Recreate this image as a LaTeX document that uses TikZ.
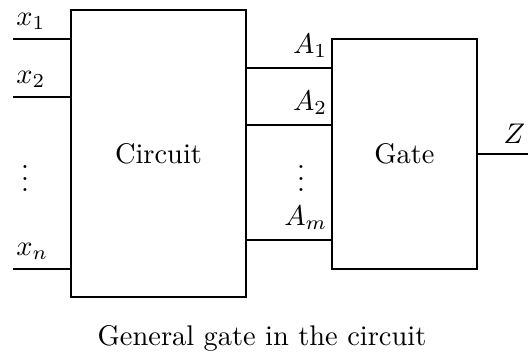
\documentclass[tikz,border=0pt]{standalone}
\begin{document}
\begin{tikzpicture}[x=0.352pt, y=-0.352pt,
    block/.style={draw, line width=0.7pt, rectangle, align=center},
    wire/.style={line width=0.7pt},
    lab/.style={inner xsep=1pt, inner ysep=3.2pt}
  ]
  \useasboundingbox (0,0) rectangle (528,356);

  \node[block, minimum width=61.6pt, minimum height=101pt] (circ) at (158.5,153.5) {Circuit};
  \node[block, minimum width=51pt, minimum height=81pt] (gate) at (404.5,154) {Gate};

  % inputs
  \foreach \n/\y/\t in {1/39/x_1, 2/97/x_2, 3/269/x_n} {
    \coordinate (in\n) at (13,\y);
    \draw[wire] (in\n) -- (in\n -| circ.west);
    \node[lab, above right] (xl\n) at (in\n) {$\t$};
  }
  \node (vl) at (25,170) {$\vdots$};

  % circuit outputs into the gate
  \foreach \n/\y/\t in {1/68/A_1, 2/125/A_2, 3/240/A_m} {
    \path (circ.east |- 0,\y) coordinate (out\n);
    \draw[wire] (out\n) -- (out\n -| gate.west) node[lab, above left] (al\n) {$\t$};
  }
  \node (vr) at (301,170) {$\vdots$};

  \path (gate.east) ++(51,0) coordinate (zend);
  \draw[wire] (gate) -- (zend) node[lab, above left] (zl) {$Z$};

  \node (cap) at (262,338) {General gate in the circuit};
\end{tikzpicture}
\end{document}
